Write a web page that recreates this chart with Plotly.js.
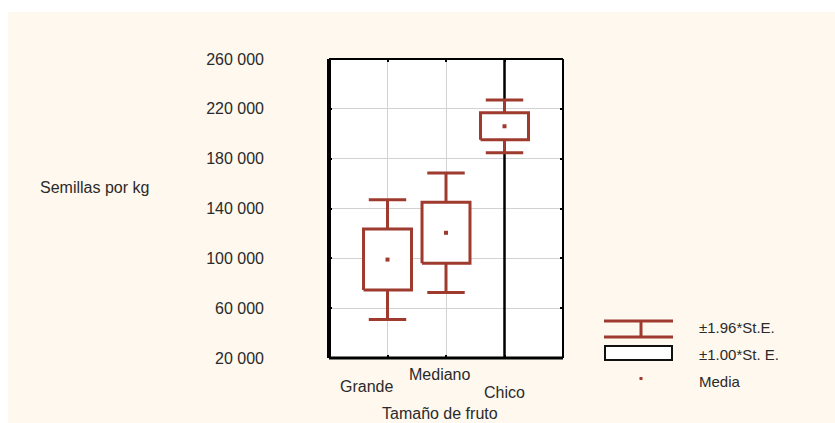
<!DOCTYPE html>
<html>
<head>
<meta charset="utf-8">
<script src="https://cdn.plot.ly/plotly-3.0.1.min.js"></script>
<style>
  html, body { margin: 0; padding: 0; background: #ffffff; }
  #chart { position: absolute; left: 8px; top: 12px; width: 827px; height: 411px; }
</style>
</head>
<body>
<div id="chart"></div>
<script>
// ---- data ----
const categories = ['Grande', 'Mediano', 'Chico'];
const means      = [99000, 120500, 206000];
const stdErr     = [24500, 24500, 10800];
const seMult     = 1.00;
const ciMult     = 1.96;
const yTickVals  = [20000, 60000, 100000, 140000, 180000, 220000, 260000];
const yTickText  = ['20 000', '60 000', '100 000', '140 000', '180 000', '220 000', '260 000'];
const yTitle     = 'Semillas por kg';
const xTitle     = 'Tamaño de fruto';
const legendText = ['±1.96*St.E.', '±1.00*St. E.', 'Media'];

// ---- style ----
const RED = '#9e3a2e';
const TXT = '#2a2a2a';
const FONT = '"Liberation Sans", Arial, sans-serif';
const boxHalf = 0.41, capHalf = 0.32;
const labelDx = [-21, -7, 0];
const labelDy = [28, 16, 34];

// plot area in page pixels (for paper-coordinate helpers)
const PL = 329, PR = 563, PT = 59, PB = 358;
const px = v => (v - PL) / (PR - PL);
const py = v => (PB - v) / (PB - PT);

const xs = categories.map((c, i) => i);
const yMin = yTickVals[0], yMax = yTickVals[yTickVals.length - 1];

// black divider line at the third category
const dividerIdx = categories.indexOf('Chico');
const dividerTrace = {
  type: 'scatter', mode: 'lines', hoverinfo: 'skip', showlegend: false,
  x: [dividerIdx, dividerIdx], y: [yMin, yMax],
  line: { color: '#000000', width: 2.5 }
};

// boxes (±1 SE)
const boxTraces = xs.map((x, i) => {
  const lo = means[i] - seMult * stdErr[i], hi = means[i] + seMult * stdErr[i];
  return {
    type: 'scatter', mode: 'lines', hoverinfo: 'skip', showlegend: false,
    x: [x - boxHalf, x + boxHalf, x + boxHalf, x - boxHalf, x - boxHalf],
    y: [lo, lo, hi, hi, lo],
    fill: 'toself', fillcolor: '#ffffff',
    line: { color: RED, width: 3 }
  };
});

// whiskers (±1.96 SE)
const wx = [], wy = [];
xs.forEach((x, i) => {
  const lo1 = means[i] - seMult * stdErr[i], hi1 = means[i] + seMult * stdErr[i];
  const lo2 = means[i] - ciMult * stdErr[i], hi2 = means[i] + ciMult * stdErr[i];
  wx.push(x, x, null, x - capHalf, x + capHalf, null, x, x, null, x - capHalf, x + capHalf, null);
  wy.push(hi1, hi2, null, hi2, hi2, null, lo1, lo2, null, lo2, lo2, null);
});
const whiskerTrace = {
  type: 'scatter', mode: 'lines', hoverinfo: 'skip', showlegend: false,
  x: wx, y: wy, line: { color: RED, width: 3 }
};

const meanTrace = {
  type: 'scatter', mode: 'markers', showlegend: false,
  x: xs, y: means,
  marker: { symbol: 'square', size: 4, color: RED, line: { width: 0 } }
};

const annotations = [];
categories.forEach((c, i) => {
  annotations.push({
    text: c, xref: 'x', x: i, yref: 'paper', y: 0, yanchor: 'middle',
    xshift: labelDx[i], yshift: -labelDy[i], showarrow: false,
    font: { family: FONT, size: 16, color: TXT }
  });
});
annotations.push({
  text: xTitle, xref: 'paper', x: px(440), yref: 'paper', y: py(413),
  xanchor: 'center', yanchor: 'middle', showarrow: false,
  font: { family: FONT, size: 16, color: TXT }
});
annotations.push({
  text: yTitle, xref: 'paper', x: px(38), yref: 'paper', y: py(187),
  xanchor: 'left', yanchor: 'middle', showarrow: false,
  font: { family: FONT, size: 16, color: TXT }
});
const legY = [327, 354, 381];
legendText.forEach((t, k) => {
  annotations.push({
    text: t, xref: 'paper', x: px(697), yref: 'paper', y: py(legY[k]),
    xanchor: 'left', yanchor: 'middle', showarrow: false,
    font: { family: FONT, size: 15, color: TXT }
  });
});

const shapes = [
  // frame
  { type: 'line', xref: 'paper', yref: 'paper', x0: 0, x1: 1, y0: 1, y1: 1, line: { color: '#000', width: 2 } },
  { type: 'line', xref: 'paper', yref: 'paper', x0: 1, x1: 1, y0: 0, y1: 1, line: { color: '#000', width: 2 } },
  { type: 'line', xref: 'paper', yref: 'paper', x0: 0, x1: 1, y0: 0, y1: 0, line: { color: '#000', width: 3 } },
  { type: 'line', xref: 'paper', yref: 'paper', x0: 0, x1: 0, y0: 0, y1: 1, line: { color: '#000', width: 4 } },
  // legend icons
  { type: 'line', xref: 'paper', yref: 'paper', x0: px(604), x1: px(673), y0: py(321), y1: py(321), line: { color: RED, width: 3 } },
  { type: 'line', xref: 'paper', yref: 'paper', x0: px(604), x1: px(673), y0: py(337), y1: py(337), line: { color: RED, width: 3 } },
  { type: 'line', xref: 'paper', yref: 'paper', x0: px(641), x1: px(641), y0: py(321), y1: py(337), line: { color: RED, width: 3 } },
  { type: 'rect', xref: 'paper', yref: 'paper', x0: px(605), x1: px(672), y0: py(346), y1: py(360),
    fillcolor: '#ffffff', line: { color: '#111', width: 2 } },
  { type: 'rect', xref: 'paper', yref: 'paper', x0: px(639.5), x1: px(642.5), y0: py(377), y1: py(380),
    fillcolor: RED, line: { width: 0 } }
];

const layout = {
  width: 827, height: 411,
  margin: { l: PL - 8, r: 835 - PR, t: PT - 12, b: 423 - PB },
  paper_bgcolor: '#fff8ee',
  plot_bgcolor: '#ffffff',
  showlegend: false,
  font: { family: FONT, size: 16, color: TXT },
  xaxis: {
    range: [-1, 3], tickvals: xs, ticktext: categories, showticklabels: false,
    showgrid: true, gridcolor: '#d2d2d2', gridwidth: 1, zeroline: false,
    ticks: 'inside', ticklen: 3, tickwidth: 2, tickcolor: '#000', mirror: 'ticks', showline: false
  },
  yaxis: {
    range: [yMin, yMax], tickvals: yTickVals, ticktext: yTickText,
    showgrid: true, gridcolor: '#d2d2d2', gridwidth: 1, zeroline: false,
    ticks: 'inside', ticklen: 3, tickwidth: 2, tickcolor: '#000', mirror: 'ticks', showline: false,
    ticklabelstandoff: 64,
    tickfont: { family: FONT, size: 16, color: TXT }
  },
  annotations: annotations,
  shapes: shapes
};

Plotly.newPlot('chart', [dividerTrace, ...boxTraces, whiskerTrace, meanTrace], layout, { displayModeBar: false, staticPlot: true });
</script>
</body>
</html>
